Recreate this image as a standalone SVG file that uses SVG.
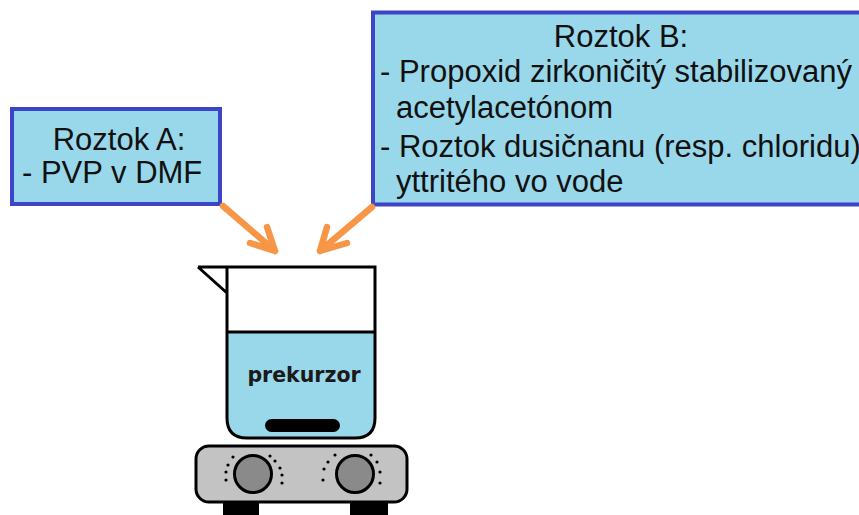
<svg xmlns="http://www.w3.org/2000/svg" width="859" height="515" viewBox="0 0 859 515">
  <defs>
    <style>
      .box { fill: #99D8EA; stroke: #3C45CA; stroke-width: 4; }
      .label { font-family: "Liberation Sans", Arial, sans-serif; font-size: 31px; fill: #111; }
      .arrow { fill: none; stroke: #F79646; stroke-width: 6.5; stroke-linecap: round; stroke-linejoin: round; }
      .ink { stroke: #000; stroke-width: 3; }
      .dot { fill: #000; }
    </style>
  </defs>
  <rect width="859" height="515" fill="#fff"/>

  <!-- Solution A -->
  <g id="roztok-a">
    <rect class="box" x="12" y="109" width="208" height="95"/>
    <text class="label" x="119" y="150" text-anchor="middle">Roztok A:</text>
    <text class="label" x="22" y="183">- PVP v DMF</text>
  </g>

  <!-- Solution B (runs past the right edge) -->
  <g id="roztok-b">
    <rect class="box" x="373" y="12.5" width="500" height="192"/>
    <text class="label" x="621" y="47" text-anchor="middle">Roztok B:</text>
    <text class="label" x="380" y="82">- Propoxid zirkoničitý stabilizovaný</text>
    <text class="label" x="396" y="118">acetylacetónom</text>
    <text class="label" x="380" y="157">- Roztok dusičnanu (resp. chloridu)</text>
    <text class="label" x="396" y="192">yttritého vo vode</text>
  </g>

  <!-- Connectors -->
  <g id="connectors">
    <path class="arrow" d="M223,206 L275,251 M250,243 L275,251 L267,227"/>
    <path class="arrow" d="M372,207 L320,251 M347,243 L320,251 L327,227"/>
  </g>

  <!-- Beaker with precursor -->
  <g id="kadinka">
    <path d="M227,332 L375,332 L375,418 Q375,438 355,438 L247,438 Q227,438 227,418 Z" fill="#99D8EA"/>
    <path class="ink" fill="none" d="M198,267 L375,267 L375,418 Q375,438 355,438 L247,438 Q227,438 227,418 L227,267 M198,267 L227,293"/>
    <line class="ink" x1="227" y1="332" x2="375" y2="332"/>
    <rect x="265" y="419" width="75" height="13" rx="6.5" fill="#000"/>
    <text x="304" y="382" text-anchor="middle" font-family="'DejaVu Sans', Verdana, sans-serif" font-weight="bold" font-size="20.5" fill="#1a1a1a">prekurzor</text>
  </g>

  <!-- Stirring hot plate -->
  <g id="miesadlo">
    <rect x="223" y="500" width="36" height="17" rx="3" fill="#000"/>
    <rect x="350" y="500" width="38" height="17" rx="3" fill="#000"/>
    <rect class="ink" x="196" y="446" width="211" height="56" rx="13" fill="#C3C3C3"/>
    <circle class="ink" cx="253" cy="474" r="18.5" fill="#8A8A8A"/>
    <circle class="ink" cx="355" cy="474" r="18.5" fill="#8A8A8A"/>
    <g class="dot">
      <circle cx="233" cy="457" r="1.6"/><circle cx="228" cy="465" r="1.6"/>
      <circle cx="226" cy="472" r="1.6"/><circle cx="226" cy="480" r="1.6"/>
      <circle cx="270" cy="456" r="1.6"/><circle cx="275" cy="461" r="1.6"/>
      <circle cx="280" cy="468" r="1.6"/><circle cx="282" cy="475" r="1.6"/>
      <circle cx="282" cy="483" r="1.6"/>
      <circle cx="335" cy="455" r="1.6"/><circle cx="328" cy="462" r="1.6"/>
      <circle cx="324" cy="469" r="1.6"/><circle cx="323" cy="480" r="1.6"/>
      <circle cx="371" cy="455" r="1.6"/><circle cx="377" cy="462" r="1.6"/>
      <circle cx="380" cy="472" r="1.6"/><circle cx="380" cy="483" r="1.6"/>
    </g>
  </g>
</svg>
